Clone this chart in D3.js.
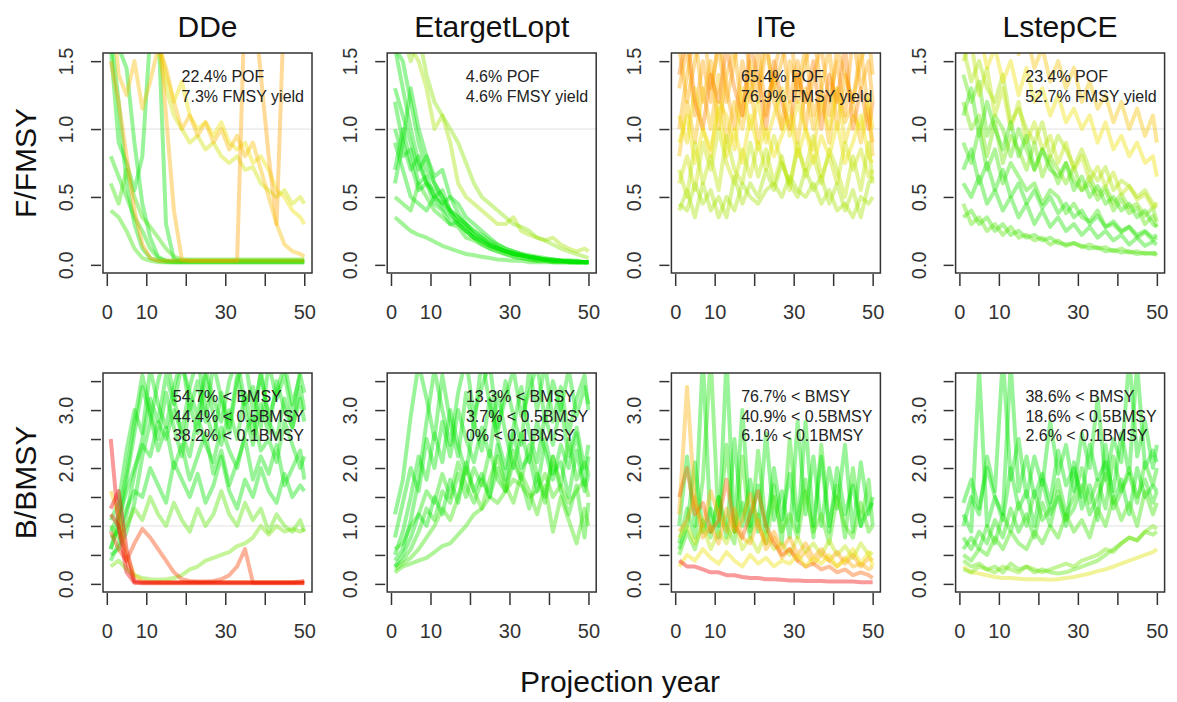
<!DOCTYPE html>
<meta charset="utf-8">
<style>
body { margin: 0; background: #fff; }
text { font-family: "Liberation Sans", Arial, Helvetica, sans-serif; }
.box { fill: none; stroke: #333; stroke-width: 1.5px; }
.ref { stroke: #e2e2e2; stroke-width: 1px; }
.run { fill: none; stroke-width: 4px; stroke-opacity: 0.4; stroke-linejoin: round; }
.tick line { stroke: #333; stroke-width: 1.5px; }
.tick text { fill: #333; font-size: 20px; }
</style>
<svg width="1177" height="702"></svg>
<script src="https://cdn.jsdelivr.net/npm/d3@7"></script>
<script>
// projection years sampled for each run
const years = [1,3,5,7,9,11,13,15,17,19,21,23,25,27,29,31,33,35,37,39,41,43,45,47,49,50];

const mps = ["DDe", "EtargetLopt", "ITe", "LstepCE"];

const fText = [
  ["22.4% POF", "7.3% FMSY yield"],
  ["4.6% POF", "4.6% FMSY yield"],
  ["65.4% POF", "76.9% FMSY yield"],
  ["23.4% POF", "52.7% FMSY yield"]
];
const bText = [
  ["54.7% < BMSY", "44.4% < 0.5BMSY", "38.2% < 0.1BMSY"],
  ["13.3% < BMSY", "3.7% < 0.5BMSY", "0% < 0.1BMSY"],
  ["76.7% < BMSY", "40.9% < 0.5BMSY", "6.1% < 0.1BMSY"],
  ["38.6% < BMSY", "18.6% < 0.5BMSY", "2.6% < 0.1BMSY"]
];

// ---- DDe ----
const ddeF = [
  [1.7,1.2,0.6,0.3,0.12,0.05,0.03,0.02,0.02,0.02,0.02,0.02,0.02,0.02,0.02,0.02,0.02,0.02,0.02,0.02,0.02,0.02,0.02,0.02,0.02,0.02],
  [1.9,1.6,1.45,0.9,0.45,0.2,0.06,0.03,0.03,0.03,0.03,0.03,0.03,0.03,0.03,0.03,0.03,0.03,0.03,0.03,0.03,0.03,0.03,0.03,0.03,0.03],
  [0.8,0.65,0.5,0.35,0.25,0.12,0.05,0.03,0.02,0.02,0.02,0.02,0.02,0.02,0.02,0.02,0.02,0.02,0.02,0.02,0.02,0.02,0.02,0.02,0.02,0.02],
  [0.4,0.35,0.25,0.12,0.05,0.03,0.02,0.02,0.02,0.02,0.02,0.02,0.02,0.02,0.02,0.02,0.02,0.02,0.02,0.02,0.02,0.02,0.02,0.02,0.02,0.02],
  [1.6,0.9,0.75,0.55,0.8,1.7,1.8,0.3,0.04,0.03,0.03,0.03,0.03,0.03,0.03,0.03,0.03,0.03,0.03,0.03,0.03,0.03,0.03,0.03,0.03,0.03],
  [0.6,0.45,0.7,0.5,0.35,0.28,0.2,0.12,0.06,0.04,0.04,0.04,0.04,0.04,0.04,0.04,0.04,0.04,0.04,0.04,0.04,0.04,0.04,0.04,0.04,0.04],
  [2,2,2,2,2,2,1.7,1.4,1.2,1.35,1.1,1.0,1.05,0.95,1.05,0.9,0.85,0.9,0.75,0.8,0.7,0.55,0.5,0.4,0.35,0.3],
  [2,2,2,2,2,1.9,1.6,1.3,1.1,1.0,0.9,0.95,0.85,0.9,0.8,0.75,0.8,0.7,0.72,0.6,0.55,0.5,0.55,0.45,0.5,0.45],
  [2,2,2,2,2,2,1.8,1.1,0.4,0.04,0.03,0.03,0.03,0.03,0.03,0.03,0.03,0.03,0.03,0.03,0.03,0.03,0.03,0.03,0.03,0.03],
  [1.5,1.2,0.8,0.4,0.15,0.05,0.03,0.03,0.03,0.03,0.03,0.03,0.03,0.03,0.03,0.03,0.03,2,2,1.4,0.8,0.3,2,2,2,2],
  [2,1.4,1.25,1.5,1.15,1.35,1.6,1.45,1.2,1.0,1.1,0.95,1.05,0.9,1.0,0.85,0.95,0.8,0.9,0.7,0.5,0.3,0.15,0.1,0.08,0.06]
];
const ddeFrisk = [0, 0, 0.05, 0.1, 0, 0.1, 0.5, 0.42, 0.7, 0.75, 0.65];

const ddeB = [
  [0.6,1.1,1.6,2.0,2.4,2.2,2.8,2.5,3.0,2.6,2.2,2.9,2.4,2.1,2.7,2.3,2.0,2.6,2.9,2.3,2.5,2.1,2.8,2.4,2.0,2.2],
  [0.4,0.7,1.2,1.9,2.5,3.2,2.8,3.6,3.1,3.8,3.3,2.9,3.7,3.2,2.8,3.5,3.9,3.1,3.4,2.7,3.8,3.2,3.6,2.9,3.7,3.9],
  [0.8,0.9,1.3,1.6,1.5,2.0,1.7,1.4,2.1,1.8,1.5,1.9,1.4,1.7,2.2,1.6,1.3,1.8,1.5,2.0,1.6,1.4,1.9,1.5,1.7,1.6],
  [0.5,0.6,0.9,1.4,2.2,2.8,3.5,4.0,3.2,2.6,3.4,3.9,3.0,2.5,3.3,2.7,3.6,3.0,2.4,3.1,2.6,3.5,3.0,2.7,3.2,2.8],
  [1.0,0.8,1.0,1.3,1.1,1.5,1.2,1.0,1.4,1.1,0.9,1.3,1.0,1.2,1.6,1.2,1.0,1.4,1.1,1.3,0.9,1.2,1.0,0.9,1.1,0.9],
  [0.6,1.0,1.8,2.6,3.4,2.9,2.3,2.7,2.0,2.4,1.8,2.2,2.6,1.9,2.3,1.7,2.1,2.5,1.8,2.2,1.9,2.4,1.7,2.0,2.3,1.8],
  [0.3,0.4,0.25,0.15,0.1,0.08,0.07,0.08,0.1,0.15,0.25,0.3,0.4,0.45,0.5,0.55,0.65,0.7,0.8,1.0,0.85,1.0,0.9,0.95,0.9,0.95],
  [1.1,1.4,2.3,3.0,2.6,3.7,3.1,2.7,3.4,3.9,3.0,3.5,2.8,3.8,3.2,2.6,3.5,3.9,3.0,3.6,2.9,3.3,3.8,3.1,3.6,3.3],
  [0.9,1.2,1.9,2.8,3.6,3.0,2.5,3.3,2.7,2.2,3.1,2.6,3.6,2.9,2.4,3.0,2.5,3.3,2.6,3.7,2.8,2.5,3.2,2.7,3.4,3.0],
  [1.6,1.2,0.5,0.15,0.05,0.03,0.03,0.03,0.03,0.03,0.03,0.03,0.03,0.03,0.03,0.03,0.03,0.03,0.03,0.03,0.03,0.03,0.03,0.03,0.03,0.03],
  [0.9,0.6,0.4,0.7,0.95,0.8,0.6,0.4,0.2,0.08,0.05,0.04,0.04,0.05,0.08,0.15,0.3,0.6,0.02,0.02,0.02,0.02,0.02,0.02,0.02,0.02],
  [2.5,1.0,0.2,0.02,0.02,0.02,0.02,0.02,0.02,0.02,0.02,0.02,0.02,0.02,0.02,0.02,0.02,0.02,0.02,0.02,0.02,0.02,0.02,0.02,0.02,0.02],
  [1.3,1.6,0.6,0.05,0.03,0.03,0.03,0.03,0.03,0.03,0.03,0.03,0.03,0.03,0.03,0.03,0.03,0.03,0.03,0.03,0.03,0.03,0.03,0.03,0.04,0.05],
  [1.2,1.0,0.4,0.03,0.01,0.01,0.01,0.01,0.01,0.01,0.01,0.01,0.01,0.01,0.01,0.01,0.01,0.01,0.01,0.01,0.01,0.01,0.01,0.01,0.01,0.01]
];
const ddeBrisk = [0, 0, 0, 0, 0.15, 0, 0.2, 0, 0, 0.6, 0.9, 1, 1, 0.95];

// ---- EtargetLopt ----
const etF = [
  [1.6,1.5,1.2,0.9,0.7,0.6,0.5,0.4,0.3,0.25,0.2,0.15,0.12,0.1,0.08,0.06,0.05,0.04,0.03,0.03,0.02,0.02,0.02,0.02,0.02,0.02],
  [1.2,0.9,0.7,0.8,0.6,0.5,0.55,0.4,0.35,0.3,0.22,0.18,0.15,0.12,0.1,0.08,0.07,0.05,0.04,0.04,0.03,0.03,0.02,0.02,0.02,0.02],
  [0.35,0.3,0.25,0.22,0.2,0.17,0.14,0.12,0.1,0.08,0.07,0.06,0.05,0.04,0.035,0.03,0.03,0.02,0.02,0.02,0.02,0.02,0.02,0.02,0.02,0.02],
  [0.6,0.9,1.3,1.0,0.8,0.65,0.7,0.5,0.45,0.35,0.3,0.25,0.2,0.15,0.12,0.1,0.08,0.06,0.05,0.04,0.04,0.03,0.03,0.02,0.02,0.02],
  [1.7,1.8,1.6,1.5,1.3,1.0,1.1,0.9,0.6,0.5,0.45,0.4,0.35,0.3,0.3,0.35,0.25,0.22,0.2,0.18,0.2,0.15,0.12,0.1,0.12,0.1],
  [0.9,0.7,0.5,0.45,0.4,0.5,0.42,0.35,0.3,0.25,0.2,0.17,0.14,0.12,0.1,0.08,0.07,0.06,0.05,0.04,0.03,0.03,0.03,0.02,0.02,0.02],
  [1.6,1.3,1.0,0.75,0.6,0.55,0.45,0.5,0.38,0.3,0.25,0.2,0.15,0.12,0.1,0.09,0.07,0.06,0.05,0.04,0.04,0.03,0.03,0.03,0.02,0.02],
  [1.9,1.7,1.5,1.7,1.4,1.2,1.1,1.0,0.9,0.75,0.6,0.5,0.45,0.4,0.35,0.3,0.28,0.25,0.2,0.18,0.15,0.12,0.1,0.08,0.06,0.05],
  [0.5,0.45,0.4,0.6,0.5,0.4,0.35,0.3,0.28,0.2,0.18,0.15,0.12,0.1,0.08,0.06,0.05,0.04,0.03,0.03,0.02,0.02,0.02,0.02,0.02,0.02],
  [1.3,1.1,0.9,0.7,0.8,0.6,0.5,0.38,0.32,0.28,0.22,0.2,0.16,0.13,0.1,0.08,0.07,0.06,0.05,0.04,0.03,0.03,0.02,0.02,0.02,0.02],
  [1.0,0.8,0.85,0.6,0.65,0.5,0.45,0.4,0.35,0.3,0.25,0.22,0.18,0.15,0.12,0.1,0.08,0.07,0.06,0.05,0.04,0.03,0.03,0.03,0.02,0.02],
  [0.7,1.0,0.75,0.55,0.6,0.45,0.4,0.3,0.32,0.25,0.2,0.18,0.14,0.12,0.1,0.08,0.07,0.06,0.05,0.04,0.03,0.03,0.02,0.02,0.02,0.02]
];
const etFrisk = [0, 0, 0.05, 0, 0.3, 0, 0, 0.25, 0.05, 0, 0, 0];

const etB = [
  [0.2,0.3,0.35,0.4,0.45,0.55,0.65,0.7,0.85,1.0,1.2,1.3,1.5,1.4,1.6,1.8,1.7,1.5,1.6,1.9,1.5,1.7,1.4,1.6,1.8,1.5],
  [0.5,0.9,1.5,2.2,1.8,2.6,2.1,3.0,2.4,1.9,2.8,2.3,3.2,2.5,2.0,2.7,3.4,2.6,2.1,2.9,2.4,3.1,2.2,2.7,2.0,2.4],
  [0.3,0.4,0.6,0.9,1.3,1.1,1.6,1.4,1.9,1.5,2.0,1.7,2.3,1.8,1.6,2.1,1.8,2.4,1.9,1.4,2.2,1.7,2.5,1.8,2.1,1.9],
  [1.2,1.8,2.9,3.8,3.2,2.5,3.6,2.8,2.2,3.3,2.7,3.9,3.1,2.6,3.5,2.9,2.4,3.7,3.0,3.8,2.8,3.4,2.6,3.2,3.6,3.0],
  [0.25,0.35,0.45,0.6,0.8,1.0,1.3,1.1,1.5,2.0,1.6,1.3,1.8,2.2,1.7,1.4,1.9,1.6,1.2,1.7,0.9,1.5,1.1,0.7,1.3,1.0],
  [0.8,1.4,2.0,1.6,2.5,2.0,2.8,2.2,3.0,2.5,2.1,2.7,2.2,3.3,2.6,2.0,2.6,2.1,2.8,2.3,1.8,2.4,2.0,2.6,1.7,2.2],
  [0.6,0.7,1.0,1.2,1.6,1.4,1.9,1.5,2.1,1.7,1.4,1.8,1.5,2.0,1.6,2.3,1.8,1.3,1.9,1.5,2.2,1.6,1.2,1.7,0.8,1.4],
  [0.4,0.6,1.1,1.8,2.8,3.7,3.0,2.4,3.3,3.9,2.9,3.4,3.8,2.7,3.2,3.7,2.9,3.3,3.8,2.8,3.5,3.0,3.7,2.9,3.4,3.1],
  [0.3,0.5,0.8,1.2,1.0,1.5,1.2,1.8,1.4,2.1,1.6,1.9,1.5,2.4,1.8,2.6,2.0,2.2,1.6,2.5,1.9,2.1,1.5,2.3,1.6,1.9]
];
const etBrisk = [0.1, 0, 0.05, 0, 0.1, 0, 0.05, 0, 0];

// ---- ITe ----
const iteF = [
  [1.3,1.6,1.1,1.5,1.2,1.7,1.3,1.0,1.5,1.2,1.6,1.1,1.4,1.7,1.2,1.5,1.0,1.4,1.6,1.2,1.5,1.1,1.7,1.3,1.5,1.2],
  [1.0,1.4,1.7,1.2,1.5,1.0,1.4,1.6,1.1,1.5,1.3,1.7,1.2,1.0,1.5,1.3,1.6,1.1,1.3,1.6,1.0,1.4,1.2,1.6,1.1,0.9],
  [0.8,1.2,0.9,1.3,1.0,1.4,0.9,1.2,1.0,1.35,0.9,1.2,1.4,1.0,1.2,0.9,1.3,1.0,1.25,0.9,1.3,1.05,1.2,0.9,1.15,0.8],
  [1.6,1.2,1.5,1.8,1.3,1.6,1.2,1.5,1.8,1.4,1.2,1.6,1.3,1.5,1.8,1.2,1.5,1.7,1.3,1.1,1.6,1.4,1.2,1.5,1.7,1.4],
  [1.1,0.9,1.3,1.0,0.8,1.2,1.1,0.85,1.3,1.0,1.2,0.9,1.1,1.3,0.95,1.2,1.0,0.85,1.2,1.0,1.3,0.9,1.1,1.0,1.25,1.0],
  [0.6,0.8,0.55,0.9,0.7,1.0,0.75,0.6,0.85,0.65,0.9,0.7,0.95,0.75,0.6,0.85,0.7,0.95,0.65,0.8,0.6,0.9,0.7,0.85,0.65,0.7],
  [0.4,0.55,0.35,0.6,0.4,0.5,0.35,0.65,0.45,0.6,0.5,0.7,0.55,0.75,0.6,0.5,0.7,0.55,0.65,0.45,0.6,0.4,0.55,0.35,0.6,0.65],
  [0.7,0.5,0.9,0.6,0.8,0.55,0.95,0.7,0.6,0.9,0.65,0.85,0.6,0.8,0.55,0.9,0.65,0.8,0.6,0.85,0.7,0.5,0.8,0.55,0.9,0.6],
  [0.45,0.4,0.6,0.45,0.55,0.35,0.5,0.4,0.6,0.5,0.45,0.55,0.6,0.5,0.65,0.55,0.5,0.6,0.45,0.55,0.4,0.45,0.35,0.5,0.45,0.5],
  [1.4,1.7,1.2,1.0,1.4,1.2,1.6,1.3,1.1,1.6,1.4,1.0,1.5,1.2,1.0,1.4,1.2,1.5,1.0,1.4,1.2,1.6,1.0,1.3,1.0,1.2],
  [0.9,1.1,0.75,1.0,0.85,1.15,0.8,1.0,0.75,1.1,0.85,1.0,0.8,0.95,1.1,0.8,1.0,0.75,0.95,0.8,1.05,0.75,0.9,1.1,0.8,0.75]
];
const iteFrisk = [0.75, 0.7, 0.65, 0.72, 0.55, 0.4, 0.3, 0.35, 0.3, 0.8, 0.5];

const iteB = [
  [1.0,2.2,1.0,3.9,0.9,1.5,0.8,2.5,1.0,1.8,0.9,2.6,1.1,1.6,0.8,2.8,1.2,2.2,1.0,2.0,1.3,2.4,0.9,2.1,1.2,1.5],
  [0.7,1.3,0.8,1.8,3.9,1.0,2.4,0.9,1.4,0.8,2.3,1.0,1.7,0.7,2.5,1.1,1.8,0.8,2.4,1.0,1.7,0.8,2.0,1.0,1.8,1.0],
  [0.5,0.9,0.6,1.1,0.8,1.5,1.0,0.7,2.2,0.9,1.2,0.7,1.5,0.9,1.2,0.8,1.6,0.9,1.2,0.7,1.5,1.0,0.8,1.4,0.9,1.0],
  [0.6,1.0,2.1,0.9,1.3,0.8,3.9,0.9,3.0,1.0,1.7,0.9,2.0,1.1,1.9,0.9,2.8,1.0,2.2,0.9,2.0,1.2,1.7,1.0,1.3,1.4],
  [0.8,1.0,0.7,1.0,0.6,0.9,0.7,1.1,0.6,0.8,0.55,0.9,0.6,0.7,0.5,0.8,0.55,0.7,0.5,0.75,0.5,0.65,0.45,0.7,0.5,0.55],
  [1.2,3.4,1.4,1.0,1.6,1.2,0.9,1.3,0.8,0.7,1.1,0.6,0.8,0.45,0.6,0.4,0.55,0.35,0.5,0.4,0.3,0.45,0.3,0.35,0.25,0.3],
  [1.5,2.0,1.2,1.4,0.9,1.1,1.8,1.0,0.8,1.2,1.6,1.0,0.7,0.5,0.6,0.4,0.3,0.35,0.25,0.3,0.2,0.25,0.15,0.2,0.15,0.1],
  [0.9,1.1,1.5,0.8,1.0,0.7,1.3,0.9,1.1,1.55,1.0,0.7,0.9,0.6,0.8,0.5,0.7,0.45,0.6,0.4,0.55,0.35,0.5,0.3,0.45,0.4],
  [0.3,0.5,0.4,0.6,0.45,0.35,0.55,0.4,0.3,0.5,0.35,0.45,0.3,0.4,0.35,0.5,0.3,0.45,0.35,0.5,0.3,0.4,0.6,0.35,0.55,0.3],
  [0.4,0.3,0.3,0.25,0.2,0.2,0.15,0.15,0.12,0.1,0.1,0.08,0.08,0.07,0.06,0.06,0.05,0.05,0.05,0.04,0.04,0.04,0.04,0.03,0.03,0.03]
];
const iteBrisk = [0, 0.05, 0.1, 0, 0.35, 0.7, 0.85, 0.75, 0.5, 1];

// ---- LstepCE ----
const lsF = [
  [0.9,0.75,1.0,0.7,0.85,0.6,0.75,0.65,0.55,0.6,0.45,0.55,0.5,0.38,0.45,0.35,0.32,0.4,0.28,0.3,0.24,0.28,0.2,0.24,0.18,0.2],
  [0.35,0.4,0.3,0.35,0.25,0.3,0.22,0.25,0.2,0.22,0.18,0.2,0.16,0.15,0.16,0.14,0.12,0.13,0.1,0.11,0.09,0.1,0.08,0.09,0.08,0.09],
  [1.4,1.2,1.35,0.95,1.1,1.0,0.8,1.0,0.85,0.7,0.85,0.75,0.6,0.75,0.62,0.55,0.6,0.48,0.55,0.4,0.48,0.38,0.42,0.3,0.36,0.28],
  [1.6,1.35,1.5,1.3,1.2,1.4,1.05,1.15,1.0,0.9,1.05,0.8,0.95,0.85,0.72,0.85,0.7,0.62,0.72,0.55,0.62,0.58,0.5,0.55,0.45,0.42],
  [1.8,1.6,1.75,1.45,1.6,1.35,1.5,1.25,1.45,1.2,1.3,1.1,1.25,1.05,1.15,1.0,1.1,0.9,1.05,0.85,0.95,0.8,0.9,0.75,0.8,0.65],
  [2.0,1.8,1.9,1.7,1.85,1.6,1.9,1.55,1.7,1.45,1.6,1.35,1.5,1.3,1.45,1.2,1.35,1.15,1.25,1.05,1.2,1.0,1.15,0.95,1.1,0.9],
  [0.6,0.5,0.65,0.45,0.55,0.4,0.5,0.35,0.45,0.3,0.4,0.28,0.35,0.25,0.3,0.22,0.28,0.2,0.25,0.18,0.22,0.15,0.2,0.14,0.17,0.15],
  [1.2,1.0,1.1,0.8,1.05,0.75,0.95,0.85,0.7,0.9,0.65,0.8,0.7,0.6,0.72,0.55,0.65,0.52,0.58,0.45,0.52,0.42,0.45,0.36,0.42,0.32],
  [0.45,0.3,0.35,0.25,0.3,0.22,0.28,0.2,0.22,0.18,0.2,0.15,0.18,0.14,0.16,0.13,0.15,0.12,0.13,0.1,0.12,0.09,0.1,0.08,0.09,0.07],
  [1.5,1.65,1.25,1.45,1.1,1.3,1.0,1.2,0.9,1.05,0.85,0.95,0.75,0.9,0.7,0.8,0.62,0.72,0.58,0.68,0.52,0.58,0.48,0.52,0.42,0.46],
  [1.1,1.3,0.95,1.2,1.0,0.85,1.05,0.8,0.95,0.7,0.85,0.7,0.65,0.75,0.55,0.65,0.5,0.58,0.45,0.5,0.4,0.45,0.35,0.4,0.3,0.28],
  [0.7,0.85,0.6,0.75,0.55,0.7,0.5,0.6,0.45,0.55,0.42,0.5,0.38,0.45,0.35,0.4,0.3,0.36,0.28,0.32,0.25,0.28,0.22,0.25,0.2,0.22]
];
const lsFrisk = [0.1, 0.1, 0.15, 0.3, 0.5, 0.62, 0.05, 0.2, 0.15, 0.35, 0.1, 0.05];

const lsB = [
  [0.3,0.2,0.18,0.15,0.12,0.1,0.1,0.09,0.08,0.08,0.08,0.07,0.08,0.1,0.12,0.15,0.18,0.22,0.25,0.3,0.35,0.4,0.45,0.5,0.55,0.6],
  [0.4,0.3,0.35,0.25,0.3,0.2,0.35,0.25,0.3,0.2,0.25,0.2,0.18,0.2,0.25,0.3,0.35,0.4,0.5,0.6,0.7,0.8,0.75,0.9,0.85,0.9],
  [1.2,0.9,3.7,1.0,1.5,1.1,2.0,1.3,1.6,1.0,1.8,1.2,1.5,1.0,2.1,1.3,1.7,1.1,2.4,1.4,1.8,1.2,2.0,1.5,1.7,1.6],
  [0.6,0.8,0.6,1.0,0.7,1.2,0.9,1.4,1.0,1.6,1.1,1.3,1.8,1.2,1.5,2.0,1.4,1.8,1.3,2.2,1.6,1.9,1.4,2.1,1.7,2.0],
  [1.0,1.5,1.2,2.2,1.6,3.9,1.8,2.5,1.5,2.2,1.7,2.8,1.9,2.4,1.6,2.6,2.0,3.2,1.8,2.5,2.1,3.9,2.2,2.8,2.0,2.4],
  [0.5,0.4,0.6,0.5,0.8,0.6,0.9,0.7,0.6,0.9,0.7,1.0,0.8,1.2,0.9,1.1,0.8,1.3,1.0,1.5,1.1,1.4,1.0,1.6,1.2,1.4],
  [1.4,1.8,1.3,2.0,1.5,1.2,3.8,1.6,2.2,1.5,1.9,1.4,2.3,1.7,2.0,1.5,2.4,1.8,2.1,1.6,2.6,1.9,3.8,2.0,2.3,2.1],
  [0.8,0.6,0.9,0.7,1.1,0.8,1.3,0.9,1.2,0.8,1.4,1.0,1.6,1.1,1.3,1.7,1.2,1.5,1.9,1.3,1.6,2.0,1.5,1.8,1.4,1.6],
  [0.25,0.2,0.3,0.25,0.2,0.3,0.25,0.2,0.3,0.25,0.2,0.25,0.3,0.35,0.3,0.4,0.45,0.5,0.6,0.55,0.7,0.8,0.75,0.9,1.0,0.95]
];
const lsBrisk = [0.45, 0.15, 0, 0.05, 0, 0.1, 0, 0.05, 0.2];

const fRuns = [ddeF, etF, iteF, lsF];
const fRisk = [ddeFrisk, etFrisk, iteFrisk, lsFrisk];
const bRuns = [ddeB, etB, iteB, lsB];
const bRisk = [ddeBrisk, etBrisk, iteBrisk, lsBrisk];

const svg = d3.select("svg");

// soften the runs a little, like the scanned original
svg.append("filter").attr("id", "soft")
  .append("feGaussianBlur").attr("stdDeviation", 0.6);

const colour = d3.scaleLinear()
  .domain([0, 0.3, 0.5, 0.75, 1])
  .range(["#00e400", "#a6e400", "#eee000", "#ffa200", "#f00000"])
  .clamp(true);

const left0 = 103, pitch = 284.2, pw = 209;

const rows = [
  {top: 53, bottom: 273, dom: [-0.06, 1.56], ticks: [0, 0.5, 1, 1.5], labs: [0, 0.5, 1, 1.5],
   runs: fRuns, risk: fRisk, notes: fText, ylab: "F/FMSY"},
  {top: 373, bottom: 592, dom: [-0.14, 3.64], ticks: [0, 0.5, 1, 1.5, 2, 2.5, 3, 3.5], labs: [0, 1, 2, 3],
   runs: bRuns, risk: bRisk, notes: bText, ylab: "B/BMSY"}
];

rows.forEach((row, r) => {
  mps.forEach((mp, i) => {
    const x0 = left0 + i * pitch;
    const x = d3.scaleLinear().domain([-0.96, 51.96]).range([x0, x0 + pw]);
    const y = d3.scaleLinear().domain(row.dom).range([row.bottom, row.top]);
    const id = "clip" + r + i;

    svg.append("clipPath").attr("id", id)
      .append("rect")
      .attr("x", x0).attr("y", row.top)
      .attr("width", pw).attr("height", row.bottom - row.top);

    const g = svg.append("g").attr("clip-path", `url(#${id})`);

    g.append("line").attr("class", "ref")
      .attr("x1", x0).attr("x2", x0 + pw)
      .attr("y1", y(1)).attr("y2", y(1));

    const line = d3.line()
      .x((d, k) => x(years[k]))
      .y(d => y(d));

    g.append("g").attr("filter", "url(#soft)")
      .selectAll(".run")
      .data(row.runs[i])
      .join("path")
      .attr("class", "run")
      .attr("stroke", (d, k) => colour(row.risk[i][k]))
      .attr("d", line);

    svg.append("rect").attr("class", "box")
      .attr("x", x0).attr("y", row.top)
      .attr("width", pw).attr("height", row.bottom - row.top);

    // x axis
    const xa = svg.append("g")
      .attr("transform", `translate(0,${row.bottom + 1})`)
      .call(d3.axisBottom(x)
        .tickValues([0, 10, 20, 30, 40, 50])
        .tickSize(12)
        .tickPadding(19)
        .tickFormat(d => [0, 10, 30, 50].includes(d) ? d : ""));
    xa.select(".domain").remove();
    xa.selectAll("text").attr("font-family", null).attr("font-size", null);

    // y axis, labels parallel to the axis
    const ya = svg.append("g")
      .attr("transform", `translate(${x0 - 2},0)`)
      .call(d3.axisLeft(y)
        .tickValues(row.ticks)
        .tickSize(10)
        .tickFormat(d => row.labs.includes(d) ? d3.format(".1f")(d) : ""));
    ya.select(".domain").remove();
    ya.selectAll("text")
      .attr("font-family", null).attr("font-size", null)
      .attr("x", 0).attr("y", -28).attr("dy", null)
      .attr("text-anchor", "middle")
      .attr("transform", "rotate(-90)");

    // summary text, top right
    const note = svg.append("g");
    const lines = note.selectAll("text")
      .data(row.notes[i])
      .join("text")
      .attr("y", (d, k) => row.top + 29 + k * 19.5)
      .attr("font-size", 16)
      .attr("fill", "#222")
      .text(d => d);
    const wmax = d3.max(lines.nodes(), n => n.getComputedTextLength());
    note.attr("transform", `translate(${x0 + pw - 8 - wmax},0)`);

    if (r === 0) {
      svg.append("text")
        .attr("x", x0 + pw / 2).attr("y", 37)
        .attr("text-anchor", "middle")
        .attr("font-size", 30)
        .attr("fill", "#111")
        .text(mp);
    }
  });

  svg.append("text")
    .attr("transform", `translate(36,${(row.top + row.bottom) / 2}) rotate(-90)`)
    .attr("text-anchor", "middle")
    .attr("font-size", 30)
    .attr("fill", "#111")
    .text(row.ylab);
});

svg.append("text")
  .attr("x", 620).attr("y", 692)
  .attr("text-anchor", "middle")
  .attr("font-size", 30)
  .attr("fill", "#111")
  .text("Projection year");
</script>
